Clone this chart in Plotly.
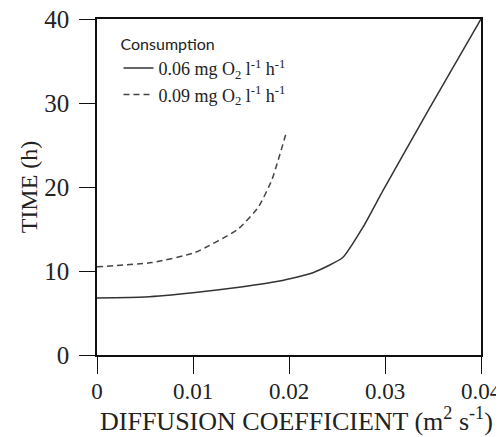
import plotly.graph_objects as go

diff_solid = [0, 0.005, 0.01, 0.015, 0.019, 0.0225, 0.0256, 0.0277, 0.0298, 0.0347, 0.04]
time_solid = [6.8, 6.9, 7.4, 8.1, 8.8, 9.8, 11.6, 15.2, 19.6, 29.5, 40]

diff_dash = [0, 0.0057, 0.0102, 0.0147, 0.0168, 0.0182, 0.0197]
time_dash = [10.5, 11.0, 12.2, 15.0, 17.6, 20.8, 26.4]

label_solid = "0.06 mg O<sub>2</sub> l<sup>-1</sup> h<sup>-1</sup>"
label_dash = "0.09 mg O<sub>2</sub> l<sup>-1</sup> h<sup>-1</sup>"

x_ticks = [0, 0.01, 0.02, 0.03, 0.04]
x_ticklabels = ["0", "0.01", "0.02", "0.03", "0.04"]
y_ticks = [0, 10, 20, 30, 40]

x_title = "DIFFUSION COEFFICIENT (m<sup>2</sup> s<sup>-1</sup>)"
y_title = "TIME (h)"

serif = "Liberation Serif, Times New Roman, serif"

W, H = 496, 429
ML, MR, MT, MB = 89, 23, 11, 82
plot_h = H - MT - MB

fig = go.Figure()
fig.add_trace(go.Scatter(x=diff_solid, y=time_solid, mode="lines", name=label_solid,
                         line=dict(color="#333333", width=1.5, shape="spline", smoothing=0.5)))
fig.add_trace(go.Scatter(x=diff_dash, y=time_dash, mode="lines", name=label_dash,
                         line=dict(color="#444444", width=1.5, dash="6px,4px", shape="spline", smoothing=0.5)))

fig.add_annotation(text=x_title, xref="paper", yref="paper", x=0.52, y=-(MB + 1) / plot_h,
                   xanchor="center", yanchor="bottom", showarrow=False,
                   font=dict(family=serif, size=26, color="#222222"))

fig.update_layout(
    width=W, height=H,
    margin=dict(l=ML, r=MR, t=MT, b=MB),
    paper_bgcolor="white", plot_bgcolor="white",
    font=dict(family=serif, size=24, color="#222222"),
    showlegend=True,
    legend=dict(
        x=0.056, y=0.97, xanchor="left", yanchor="top",
        bgcolor="rgba(0,0,0,0)",
        font=dict(family=serif, size=18, color="#222222"),
        title=dict(text="Consumption", font=dict(family="Lato, Liberation Sans, sans-serif", size=16, color="#222222")),
        itemwidth=30, tracegroupgap=0,
    ),
    xaxis=dict(
        range=[0, 0.04], tickvals=x_ticks, ticktext=x_ticklabels,
        showgrid=False, zeroline=False, automargin=False,
        showline=True, linecolor="#111111", linewidth=1.5, mirror=True,
        ticks="outside", ticklen=17, tickwidth=1, tickcolor="#111111",
        tickfont=dict(family=serif, size=23), ticklabelstandoff=-2,
        ticklabeloverflow="allow",
    ),
    yaxis=dict(
        range=[0, 40], tickvals=y_ticks,
        showgrid=False, zeroline=False, automargin=False,
        showline=True, linecolor="#111111", linewidth=1.5, mirror=True,
        ticks="outside", ticklen=16, tickwidth=1, tickcolor="#111111",
        tickfont=dict(family=serif, size=25), ticklabelstandoff=5,
        ticklabeloverflow="allow",
        title=dict(text=y_title, font=dict(family=serif, size=24), standoff=0),
    ),
)

fig.write_html("out.html")
